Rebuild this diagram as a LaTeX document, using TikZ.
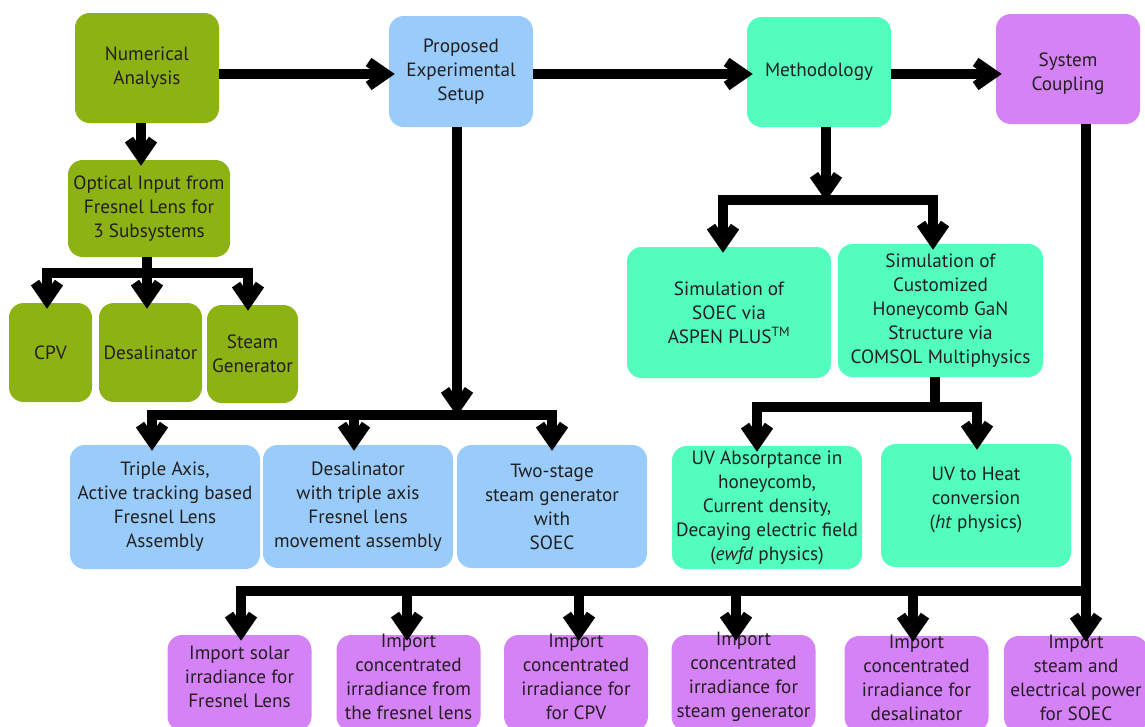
\documentclass[tikz,border=0pt]{standalone}
\usepackage{fontspec}
\setmainfont{PT Sans}
\usetikzlibrary{positioning, arrows.meta}

\definecolor{olivebox}{RGB}{141,178,20}
\definecolor{skybox}{RGB}{153,204,250}
\definecolor{mintbox}{RGB}{82,253,190}
\definecolor{violetbox}{RGB}{214,130,247}
\definecolor{inkgray}{RGB}{35,31,32}

\begin{document}
\begin{tikzpicture}[x=0.75pt,y=-0.75pt,font=\fontsize{14.4pt}{18pt}\selectfont,>={Straight Barb[length=13pt,width=18pt,sharp]}]

	\tikzstyle{block}=[rounded corners=11pt,align=center,text=inkgray,inner sep=2pt]
	\tikzstyle{optbox}=[block,fill=olivebox]
	\tikzstyle{setupbox}=[block,fill=skybox]
	\tikzstyle{methbox}=[block,fill=mintbox]
	\tikzstyle{couplebox}=[block,fill=violetbox,minimum width=108pt,minimum height=72pt]
	\tikzstyle{coupletext}=[align=center,text=inkgray,inner sep=0pt,yshift=4.5pt]
	\tikzstyle{link}=[line width=7.5pt]
	\tikzstyle{arr}=[link,->,shorten >=-4.5pt]

	\useasboundingbox (0,0) rectangle (1145,726);
	\clip (0,0) rectangle (1145,726);

	% top row
	\node[optbox, minimum width=108pt, minimum height=82.5pt] (num) at (147,68) {Numerical\\Analysis};
	\node[setupbox, minimum width=108pt, minimum height=83.25pt] (proposed) at (461,71.5) {Proposed\\Experimental\\Setup};
	\node[methbox, minimum width=108pt, minimum height=82.5pt] (method) at (819,72) {Methodology};
	\node[couplebox, minimum height=82.5pt] (system) at (1068,69) {};
	\node[coupletext, yshift=-8pt] (systemt) at (system.center) {System\\Coupling};

	% numerical analysis branch
	\node[optbox, minimum width=121.5pt, minimum height=72.75pt] (optical) at (149,208.5) {Optical Input from\\Fresnel Lens for\\3 Subsystems};
	\node[optbox, minimum width=62.25pt, minimum height=74.25pt] (cpv) at (50.5,352.5) {CPV};
	\node[optbox, minimum width=77.25pt, minimum height=74.25pt] (desal) at (150.5,352.5) {Desalinator};
	\node[optbox, minimum width=68.25pt, minimum height=73.5pt] (steam) at (252.5,354) {Steam\\Generator};

	% experimental setup branch
	\node[setupbox, minimum width=142.5pt, minimum height=93pt] (triple) at (165,507) {Triple Axis,\\Active tracking based\\Fresnel Lens\\Assembly};
	\node[setupbox, minimum width=142.5pt, minimum height=92.25pt] (desalax) at (358,506.5) {Desalinator\\with triple axis\\Fresnel lens\\movement assembly};
	\node[setupbox, minimum width=142.5pt, minimum height=92.25pt] (twostage) at (552,506.5) {Two-stage\\steam generator\\with\\SOEC};

	% methodology branch
	\node[methbox, minimum width=153pt, minimum height=98.25pt] (simsoec) at (729,312.5) {Simulation of\\SOEC via\\ASPEN PLUS\textsuperscript{TM}};
	\node[methbox, minimum width=153.75pt, minimum height=99.75pt] (simcust) at (940.5,310.5) {Simulation of\\Customized\\Honeycomb GaN\\Structure via\\COMSOL Multiphysics};
	\node[methbox, minimum width=142.5pt, minimum height=92.25pt] (uvabs) at (767,507.5) {UV Absorptance in\\honeycomb,\\Current density,\\Decaying electric field\\(\textit{ewfd} physics)};
	\node[methbox, minimum width=142.5pt, minimum height=92.25pt] (uvheat) at (976,505.5) {};
	\node[coupletext] (uvheatt) at (uvheat.center) {UV to Heat\\conversion\\(\textit{ht} physics)};

	% system coupling row
	\node[couplebox] (P1) at (239.5,683) {};
	\node[couplebox] (P2) at (408.5,683) {};
	\node[couplebox] (P3) at (576,683) {};
	\node[couplebox] (P4) at (743.5,683) {};
	\node[couplebox] (P5) at (916.5,684) {};
	\node[couplebox] (P6) at (1076,684) {};
	\node[coupletext] (P1t) at (P1.center) {Import solar\\irradiance for\\Fresnel Lens};
	\node[coupletext] (P2t) at (P2.center) {Import\\concentrated\\irradiance from\\the fresnel lens};
	\node[coupletext] (P3t) at (P3.center) {Import\\concentrated\\irradiance for\\for CPV};
	\node[coupletext] (P4t) at (P4.center) {Import\\concentrated\\irradiance for\\steam generator};
	\node[coupletext] (P5t) at (P5.center) {Import\\concentrated\\irradiance for\\desalinator};
	\node[coupletext] (P6t) at (P6.center) {Import\\steam and\\electrical power\\for SOEC};

	% junction points
	\coordinate (toprow) at (0,74);
	\coordinate (ob) at (147,273);
	\coordinate (ob1) at (47,273);
	\coordinate (ob3) at (248,273);
	\coordinate (pbin) at (457,410);
	\coordinate (pb1) at (152,415);
	\coordinate (pb2) at (354,415);
	\coordinate (pb3) at (552,415);
	\coordinate (mbin) at (826,195);
	\coordinate (mb) at (826,200);
	\coordinate (mb1) at (723,200);
	\coordinate (mb2) at (933,200);
	\coordinate (cb) at (935,407);
	\coordinate (cb1) at (757,407);
	\coordinate (cb2) at (977,407);
	\coordinate (sb1) at (241,591);
	\coordinate (sb2) at (407,591);
	\coordinate (sb3) at (579,591);
	\coordinate (sb4) at (736,591);
	\coordinate (sb5) at (913,591);
	\coordinate (sb6) at (1086,591);

	\draw[arr] (num.east |- toprow) -- (proposed.west |- toprow);
	\draw[arr] (proposed.east |- toprow) -- (method.west |- toprow);
	\draw[arr] (method.east |- toprow) -- (system.west |- toprow);

	\draw[arr] ([xshift=-4.5pt]num.south) -- ([xshift=-4.5pt]num.south |- optical.north);
	\draw[arr] (optical.south -| ob) -- (ob |- desal.north);
	\draw[arr] (ob) -| (ob1 |- cpv.north);
	\draw[arr] (ob) -| (ob3 |- steam.north);

	\draw[arr] (proposed.south -| pbin) -- (pbin);
	\draw[arr] (pb2) -- (pb2 |- desalax.north);
	\draw[arr] (pb2) -| (pb1 |- triple.north);
	\draw[arr] (pb2) -| (pb3 |- twostage.north);

	\draw[arr] (method.south -| mbin) -- (mbin);
	\draw[arr] (mb) -| (mb1 |- simsoec.north);
	\draw[arr] (mb) -| (mb2 |- simcust.north);

	\draw[link] (simcust.south -| cb) -- (cb);
	\draw[arr] (cb) -| (cb1 |- uvabs.north);
	\draw[arr] (cb) -| (cb2 |- uvheat.north);

	\draw[arr] (system.south -| sb6) -- (sb6 |- P6.north);
	\draw[arr] (sb6) -| (sb1 |- P1.north);
	\foreach \k in {2,...,5}
		\draw[arr] (sb\k) -- (sb\k |- P\k.north);

\end{tikzpicture}
\end{document}
